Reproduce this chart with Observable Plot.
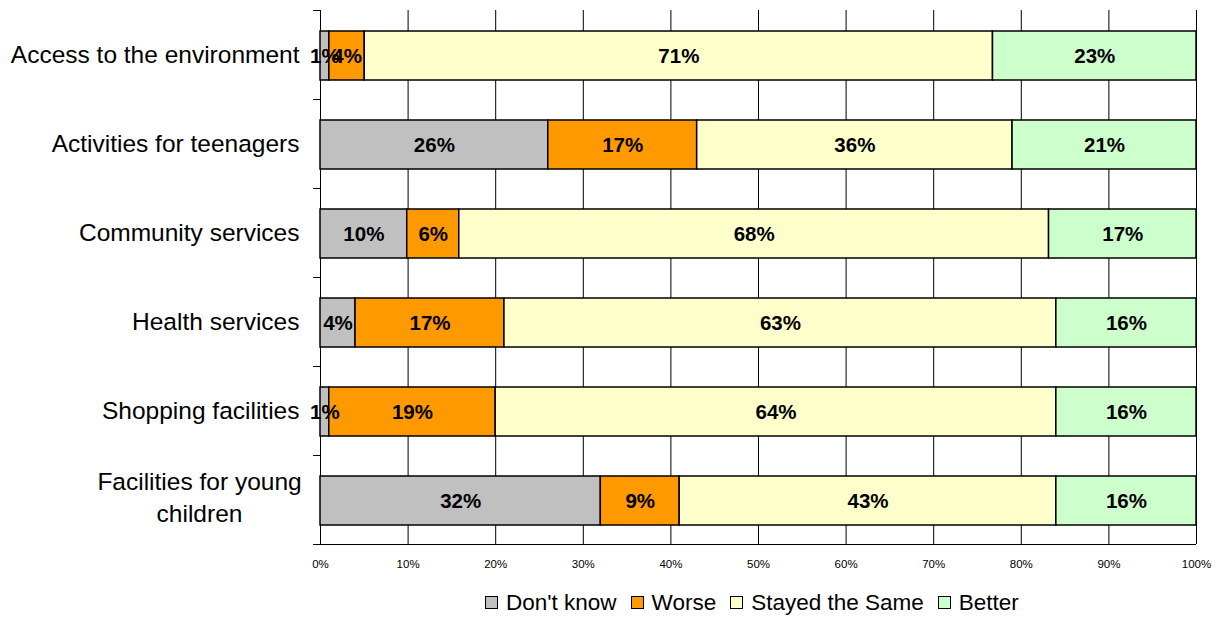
<!DOCTYPE html>
<html>
<head>
<meta charset="utf-8">
<script src="https://cdn.jsdelivr.net/npm/d3@7"></script>
<script src="https://cdn.jsdelivr.net/npm/@observablehq/plot@0.6"></script>
<style>
  html, body { margin: 0; padding: 0; background: #fff; }
  body { width: 1220px; height: 617px; overflow: hidden; font-family: "Liberation Sans", Arial, sans-serif; }
  #legend { display: flex; align-items: center; height: 37px; margin-left: 485px; font-size: 22.5px; color: #000; position: relative; top: 4px; }
  #legend .item { display: flex; align-items: center; margin-right: 14px; }
  #legend .sw { width: 11px; height: 11px; border: 1.5px solid #000; margin-right: 8px; }
</style>
</head>
<body>
<div id="chart"></div>
<div id="legend"></div>
<script>
const categories = ["Access to the environment", "Activities for teenagers", "Community services", "Health services", "Shopping facilities", "Facilities for young children"];
const series = ["Don't know", "Worse", "Stayed the Same", "Better"];
const dontKnow = [1, 26, 10, 4, 1, 32];
const worse = [4, 17, 6, 17, 19, 9];
const stayedSame = [71, 36, 68, 63, 64, 43];
const better = [23, 21, 17, 16, 16, 16];
const colors = ["#C0C0C0", "#FF9900", "#FFFFCC", "#CCFFCC"];
const xTicks = [0, 10, 20, 30, 40, 50, 60, 70, 80, 90, 100];
const wrappedLabel = "Facilities for young\nchildren";

const seriesValues = [dontKnow, worse, stayedSame, better];
const data = categories.flatMap((c, i) => seriesValues.map((arr, j) => ({category: c, series: series[j], value: arr[i]})));
const lastCat = categories[categories.length - 1];

const chart = Plot.plot({
  width: 1220,
  height: 580,
  marginLeft: 320,
  marginRight: 24,
  marginTop: 10,
  marginBottom: 36,
  style: {fontFamily: '"Liberation Sans", Arial, sans-serif', background: "#fff", color: "#000"},
  x: {domain: [0, 1]},
  y: {domain: categories, padding: 0},
  color: {domain: series, range: colors},
  marks: [
    Plot.ruleX(xTicks, {x: d => d / 100, stroke: "#000", strokeWidth: 1}),
    Plot.barX(data, Plot.stackX({x: "value", y: "category", fill: "series", offset: "normalize", stroke: "#000", strokeWidth: 1.5, insetTop: 21, insetBottom: 19})),
    Plot.text(data, Plot.stackX({x: "value", y: "category", z: "series", offset: "normalize", text: d => d.value + "%", fontWeight: "bold", fontSize: 20.5, fill: "#000", dy: 1})),
    Plot.ruleY(categories, {y: d => d, x1: -0.008, x2: 0, dy: -44.5, stroke: "#000"}),
    Plot.ruleY([lastCat], {y: d => d, x1: -0.008, x2: 1, dy: 44.5, stroke: "#000"}),
    Plot.axisX({ticks: xTicks.map(d => d / 100), tickFormat: d => Math.round(d * 100) + "%", tickSize: 0, tickPadding: 15, fontSize: 11.5, label: null}),
    Plot.axisY({tickSize: 0, tickPadding: 21, fontSize: 24.5, label: null, tickFormat: d => d === lastCat ? "" : d}),
    Plot.text([lastCat], {y: d => d, x: 0, dx: -121, dy: -4, text: () => wrappedLabel, textAnchor: "middle", fontSize: 24.5, lineHeight: 1.3, fill: "#000"})
  ]
});
document.getElementById("chart").appendChild(chart);

const legend = document.getElementById("legend");
series.forEach((s, i) => {
  const item = document.createElement("div");
  item.className = "item";
  const sw = document.createElement("div");
  sw.className = "sw";
  sw.style.background = colors[i];
  const label = document.createElement("span");
  label.textContent = s;
  item.appendChild(sw);
  item.appendChild(label);
  legend.appendChild(item);
});
</script>
</body>
</html>
